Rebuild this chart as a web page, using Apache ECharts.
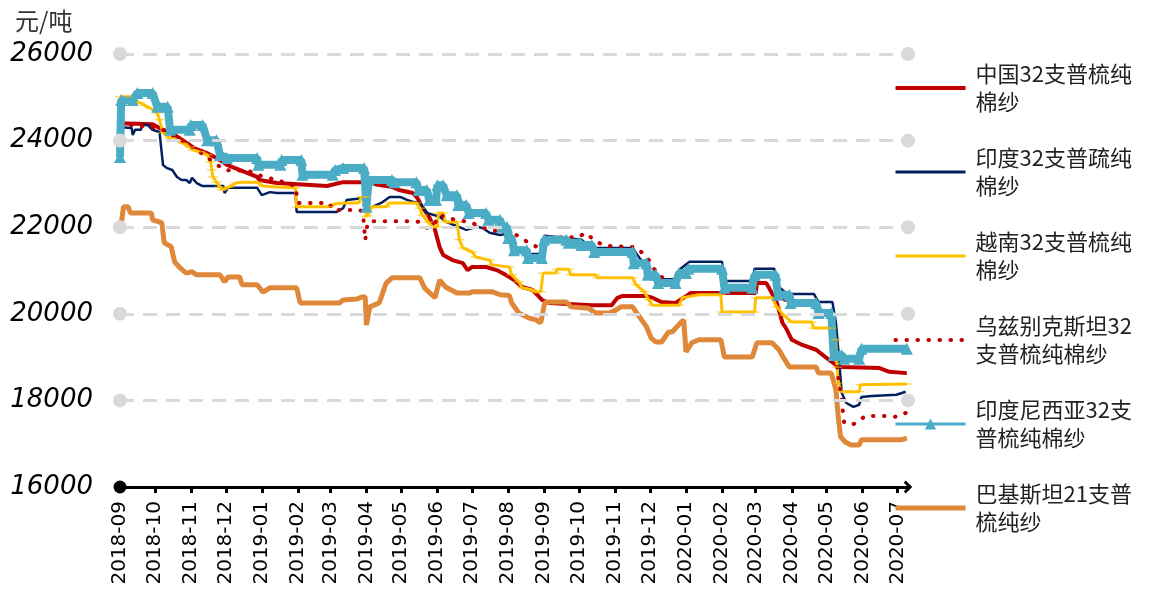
<!DOCTYPE html>
<html><head><meta charset="utf-8">
<script src="https://cdn.jsdelivr.net/npm/echarts@6/dist/echarts.min.js"></script>
<style>html,body{margin:0;padding:0;background:#fff}#c{width:1149px;height:594px}</style>
</head><body><div id="c"></div>
<script>
const seriesNames = ['中国32支普梳纯\n棉纱','印度32支普疏纯\n棉纱','越南32支普梳纯\n棉纱','乌兹别克斯坦32\n支普梳纯棉纱','印度尼西亚32支\n普梳纯棉纱','巴基斯坦21支普\n梳纯纱'];
const gridValues = [18000, 20000, 22000, 24000, 26000];
const yUnit = '元/吨';

const chinaData = [['2018-09-01',24400],['2018-09-29',24380],['2018-10-05',24290],['2018-10-18',24130],['2018-10-31',23900],['2018-11-03',23830],['2018-11-15',23710],['2018-11-23',23600],['2018-12-02',23440],['2018-12-28',23160],['2018-12-30',23090],['2019-01-14',23020],['2019-02-26',22950],['2019-03-12',23040],['2019-03-29',23040],['2019-04-23',22930],['2019-04-29',22860],['2019-05-11',22790],['2019-05-15',22670],['2019-05-19',22470],['2019-05-25',22240],['2019-05-30',21940],['2019-06-03',21540],['2019-06-06',21360],['2019-06-14',21240],['2019-06-23',21170],['2019-06-27',21010],['2019-07-01',21080],['2019-07-13',21080],['2019-07-22',21010],['2019-07-27',20940],['2019-08-02',20850],['2019-08-06',20780],['2019-08-13',20620],['2019-08-22',20550],['2019-08-26',20440],['2019-08-30',20320],['2019-09-05',20250],['2019-10-12',20200],['2019-10-29',20200],['2019-11-03',20370],['2019-11-07',20410],['2019-11-28',20410],['2019-12-03',20370],['2019-12-11',20270],['2019-12-23',20250],['2019-12-30',20370],['2020-01-05',20480],['2020-03-01',20480],['2020-03-02',20710],['2020-03-10',20710],['2020-03-12',20620],['2020-03-19',20270],['2020-03-24',19790],['2020-03-27',19670],['2020-04-01',19400],['2020-04-10',19280],['2020-04-22',19170],['2020-04-30',19000],['2020-05-09',18820],['2020-05-14',18770],['2020-06-15',18750],['2020-06-24',18660],['2020-07-09',18630]];

const indiaData = [['2018-09-01',23600],['2018-09-02',24310],['2018-09-11',24290],['2018-09-12',24130],['2018-09-14',24250],['2018-09-19',24250],['2018-09-20',24360],['2018-09-25',24360],['2018-09-29',24250],['2018-10-05',24200],['2018-10-08',23440],['2018-10-11',23370],['2018-10-16',23320],['2018-10-20',23160],['2018-10-24',23090],['2018-10-28',23090],['2018-10-31',23020],['2018-11-02',23140],['2018-11-06',23020],['2018-11-11',22950],['2018-11-29',22950],['2018-11-30',22790],['2018-12-03',22910],['2018-12-28',22910],['2019-01-01',22740],['2019-01-08',22810],['2019-01-14',22790],['2019-01-30',22790],['2019-01-31',22350],['2019-03-06',22350],['2019-03-12',22440],['2019-03-15',22630],['2019-03-28',22670],['2019-04-01',22560],['2019-04-04',22440],['2019-04-15',22580],['2019-04-21',22700],['2019-04-30',22700],['2019-05-06',22630],['2019-05-12',22580],['2019-05-17',22560],['2019-05-23',22330],['2019-06-03',22240],['2019-06-09',22120],['2019-06-26',21940],['2019-07-05',22010],['2019-07-10',21980],['2019-07-16',21870],['2019-07-25',21820],['2019-07-29',21840],['2019-08-04',21610],['2019-08-17',21380],['2019-08-30',21380],['2019-09-01',21800],['2019-09-20',21750],['2019-10-03',21710],['2019-10-12',21520],['2019-11-16',21520],['2019-11-22',21290],['2019-11-30',21010],['2019-12-06',20800],['2019-12-23',20800],['2019-12-26',21010],['2020-01-04',21200],['2020-02-01',21200],['2020-02-03',20760],['2020-02-27',20760],['2020-02-29',21040],['2020-03-17',21040],['2020-03-21',20620],['2020-03-28',20460],['2020-04-20',20460],['2020-04-24',20270],['2020-05-06',20270],['2020-05-09',19790],['2020-05-11',19170],['2020-05-14',18170],['2020-05-18',17940],['2020-05-24',17850],['2020-05-29',17900],['2020-05-31',18080],['2020-06-09',18100],['2020-06-30',18130],['2020-07-08',18200]];

const vietnamData = [['2018-09-01',25010],['2018-09-10',25010],['2018-09-18',24870],['2018-09-27',24750],['2018-10-03',24640],['2018-10-05',24480],['2018-10-08',24180],['2018-10-14',24060],['2018-10-20',24010],['2018-10-25',23940],['2018-10-31',23850],['2018-11-03',23780],['2018-11-09',23740],['2018-11-15',23670],['2018-11-18',23510],['2018-11-19',23320],['2018-11-20',23160],['2018-11-23',23040],['2018-11-26',22930],['2018-11-28',22860],['2018-12-04',22930],['2018-12-10',23020],['2018-12-15',23040],['2018-12-28',23040],['2019-01-02',22950],['2019-01-14',22930],['2019-01-30',22910],['2019-01-31',22470],['2019-02-28',22470],['2019-03-05',22540],['2019-03-14',22560],['2019-03-25',22560],['2019-03-28',22700],['2019-03-31',22700],['2019-04-01',22240],['2019-04-02',22280],['2019-04-06',22470],['2019-04-18',22470],['2019-04-21',22560],['2019-05-14',22560],['2019-05-17',22440],['2019-05-19',22280],['2019-05-24',22120],['2019-05-28',22010],['2019-06-01',22010],['2019-06-02',22330],['2019-06-06',22330],['2019-06-08',22120],['2019-06-18',22120],['2019-06-20',21710],['2019-06-23',21520],['2019-07-01',21430],['2019-07-04',21310],['2019-07-16',21240],['2019-07-18',21130],['2019-08-02',21080],['2019-08-04',20900],['2019-08-10',20740],['2019-08-13',20600],['2019-08-22',20550],['2019-08-24',20510],['2019-08-29',20510],['2019-08-31',20940],['2019-09-11',20940],['2019-09-12',21030],['2019-09-22',21030],['2019-09-24',20900],['2019-10-15',20900],['2019-10-17',20830],['2019-11-16',20830],['2019-11-19',20670],['2019-11-26',20510],['2019-11-30',20320],['2019-12-03',20200],['2019-12-26',20200],['2019-12-29',20370],['2020-01-12',20440],['2020-01-31',20440],['2020-02-01',20040],['2020-02-29',20040],['2020-03-01',20370],['2020-03-15',20370],['2020-03-19',20160],['2020-03-25',19970],['2020-04-01',19810],['2020-04-18',19810],['2020-04-20',19670],['2020-05-05',19670],['2020-05-09',19400],['2020-05-10',18770],['2020-05-11',18400],['2020-05-14',18200],['2020-05-29',18200],['2020-05-30',18360],['2020-07-09',18380]];

const uzbekData = [['2018-09-01',24380],['2018-10-05',24290],['2018-10-31',23900],['2018-11-30',23320],['2018-12-21',23300],['2018-12-28',23210],['2019-01-14',23090],['2019-01-30',22950],['2019-02-01',22560],['2019-02-28',22560],['2019-03-03',22400],['2019-03-26',22400],['2019-03-29',22350],['2019-03-31',21700],['2019-04-02',22100],['2019-04-05',22140],['2019-05-11',22140],['2019-05-17',22120],['2019-05-23',21980],['2019-05-30',22100],['2019-06-03',22280],['2019-06-09',22240],['2019-06-16',22170],['2019-06-29',22120],['2019-07-11',21980],['2019-07-25',21890],['2019-08-08',21820],['2019-08-13',21730],['2019-08-19',21640],['2019-08-26',21540],['2019-08-30',21540],['2019-09-01',21770],['2019-10-01',21770],['2019-10-06',21870],['2019-10-11',21770],['2019-10-16',21660],['2019-10-24',21570],['2019-11-19',21540],['2019-11-29',21290],['2019-12-03',21080],['2019-12-11',20850],['2019-12-23',20710],['2020-01-01',21010],['2020-02-01',21010],['2020-02-03',20600],['2020-02-27',20600],['2020-02-29',20900],['2020-03-18',20900],['2020-03-20',20440],['2020-03-30',20250],['2020-04-22',20250],['2020-04-24',20020],['2020-05-05',20020],['2020-05-11',18540],['2020-05-14',18010],['2020-05-15',17730],['2020-05-16',17500],['2020-05-22',17430],['2020-05-28',17500],['2020-06-03',17640],['2020-06-24',17640],['2020-06-30',17620],['2020-07-08',17710]];

const indonesiaData = [['2018-09-01',23620],['2018-09-02',24940],['2018-09-12',24940],['2018-09-16',25100],['2018-09-29',25100],['2018-10-03',24780],['2018-10-12',24780],['2018-10-14',24250],['2018-10-31',24250],['2018-11-01',24360],['2018-11-11',24360],['2018-11-15',24010],['2018-11-23',24010],['2018-11-26',23670],['2018-12-02',23600],['2018-12-28',23600],['2018-12-29',23440],['2019-01-17',23440],['2019-01-18',23550],['2019-02-04',23550],['2019-02-05',23210],['2019-03-03',23210],['2019-03-05',23320],['2019-03-12',23370],['2019-03-30',23370],['2019-04-01',22470],['2019-04-03',23090],['2019-04-23',23090],['2019-04-25',23040],['2019-05-14',23040],['2019-05-16',22860],['2019-05-23',22860],['2019-05-25',22630],['2019-05-31',22630],['2019-06-01',22970],['2019-06-06',22970],['2019-06-09',22740],['2019-06-18',22740],['2019-06-19',22510],['2019-06-26',22510],['2019-06-28',22330],['2019-07-13',22330],['2019-07-15',22170],['2019-07-25',22170],['2019-07-27',22010],['2019-07-31',22010],['2019-08-01',21750],['2019-08-04',21750],['2019-08-06',21470],['2019-08-17',21470],['2019-08-18',21290],['2019-08-30',21290],['2019-09-01',21710],['2019-09-20',21710],['2019-09-22',21640],['2019-10-01',21640],['2019-10-03',21590],['2019-10-12',21590],['2019-10-14',21430],['2019-11-16',21430],['2019-11-17',21170],['2019-11-28',21170],['2019-11-29',20900],['2019-12-06',20900],['2019-12-08',20710],['2019-12-23',20710],['2019-12-26',20940],['2020-01-01',20940],['2020-01-03',21040],['2020-02-01',21040],['2020-02-03',20600],['2020-02-27',20600],['2020-02-29',20900],['2020-03-18',20900],['2020-03-20',20440],['2020-03-30',20440],['2020-03-31',20250],['2020-04-22',20250],['2020-04-24',20020],['2020-05-05',20020],['2020-05-07',19050],['2020-05-14',19050],['2020-05-16',18960],['2020-05-29',18960],['2020-05-31',19190],['2020-07-09',19190]];

const pakistanData = [['2018-09-01',21870],['2018-09-04',22470],['2018-09-08',22470],['2018-09-10',22330],['2018-09-28',22330],['2018-09-29',22170],['2018-10-05',22120],['2018-10-07',22100],['2018-10-09',21640],['2018-10-15',21550],['2018-10-18',21200],['2018-10-22',21080],['2018-10-28',20940],['2018-11-02',20970],['2018-11-06',20900],['2018-11-26',20900],['2018-11-30',20740],['2018-12-03',20850],['2018-12-13',20850],['2018-12-15',20670],['2018-12-28',20670],['2019-01-02',20500],['2019-01-08',20600],['2019-01-31',20600],['2019-02-03',20250],['2019-03-09',20250],['2019-03-12',20320],['2019-03-24',20340],['2019-03-28',20390],['2019-03-31',20390],['2019-04-01',19740],['2019-04-04',20160],['2019-04-12',20250],['2019-04-18',20710],['2019-04-23',20830],['2019-05-17',20830],['2019-05-21',20600],['2019-05-30',20370],['2019-06-03',20780],['2019-06-08',20620],['2019-06-18',20480],['2019-06-29',20480],['2019-07-01',20510],['2019-07-18',20510],['2019-07-25',20440],['2019-08-02',20420],['2019-08-04',20250],['2019-08-10',20020],['2019-08-19',19900],['2019-08-25',19860],['2019-08-29',19790],['2019-09-01',20200],['2019-09-02',20270],['2019-09-20',20270],['2019-09-24',20160],['2019-10-09',20130],['2019-10-15',20020],['2019-10-27',20020],['2019-11-02',20090],['2019-11-06',20160],['2019-11-16',20160],['2019-11-22',19930],['2019-11-28',19700],['2019-12-02',19440],['2019-12-06',19350],['2019-12-11',19350],['2019-12-17',19580],['2019-12-20',19580],['2019-12-28',19810],['2019-12-30',19860],['2020-01-01',19120],['2020-01-06',19330],['2020-01-12',19400],['2020-01-31',19400],['2020-02-03',19000],['2020-02-27',19000],['2020-03-02',19330],['2020-03-15',19330],['2020-03-21',19170],['2020-03-25',18980],['2020-03-30',18770],['2020-04-22',18770],['2020-04-24',18630],['2020-05-05',18630],['2020-05-09',18240],['2020-05-11',17620],['2020-05-13',17160],['2020-05-17',17040],['2020-05-22',16970],['2020-05-29',16970],['2020-05-31',17090],['2020-07-04',17090],['2020-07-09',17130]];

const chart = echarts.init(document.getElementById('c'), null, {renderer: 'canvas'});
const pad2 = n => String(n).padStart(2, '0');
const arrowPath = 'path://M0,10 L10,0 L20,10 L16.5,13 L10,6.5 L3.5,13 Z';
const barSymbol = 'path://M0,0 L12,0 L12,3.5 L0,3.5 Z';
const hidden = {opacity: 0};

chart.setOption({
  animation: false,
  backgroundColor: '#fff',
  title: {text: yUnit, left: 10, top: 4, textStyle: {fontFamily: 'Noto Sans CJK SC', fontSize: 24, fontWeight: 'normal', color: '#333'}},
  grid: {left: 120, right: 241, top: 54, bottom: 107, containLabel: false},
  legend: {
    orient: 'vertical', left: 893, top: 46, padding: 0, itemGap: 0,
    itemWidth: 70, itemHeight: 14,
    textStyle: {fontFamily: 'Noto Sans CJK SC', fontSize: 22, color: '#222', lineHeight: 28, padding: [28, 0, 0, 5]},
    data: [
      {name: seriesNames[0], lineStyle: {width: 4}, itemStyle: hidden},
      {name: seriesNames[1], lineStyle: {width: 3}, itemStyle: hidden},
      {name: seriesNames[2], lineStyle: {width: 3}, itemStyle: hidden},
      {name: seriesNames[3], lineStyle: {width: 4}, itemStyle: hidden},
      {name: seriesNames[4], lineStyle: {width: 3}},
      {name: seriesNames[5], lineStyle: {width: 5}, itemStyle: hidden}
    ]
  },
  xAxis: {
    type: 'time', min: '2018-09-01', max: '2020-07-10',
    minInterval: 28 * 86400000, maxInterval: 31 * 86400000,
    axisLine: {show: true, lineStyle: {color: '#000', width: 3}, symbol: ['circle', arrowPath], symbolSize: [13, 13], symbolOffset: [0, 0]},
    axisTick: {show: true, length: 6, lineStyle: {color: '#000', width: 3}},
    axisLabel: {
      rotate: 90, margin: 14, color: '#000', fontFamily: 'DejaVu Sans', fontSize: 20,
      formatter: v => { const d = new Date(v); return d.getFullYear() + '-' + pad2(d.getMonth() + 1); }
    },
    splitLine: {show: false}
  },
  yAxis: {
    type: 'value', min: 16000, max: 26000, interval: 2000,
    axisLine: {show: false}, axisTick: {show: false}, splitLine: {show: false},
    axisLabel: {color: '#000', fontFamily: 'DejaVu Sans', fontStyle: 'italic', fontSize: 26, margin: 27, formatter: v => String(v)}
  },
  series: [
    {
      name: 'grid', type: 'line', data: [], silent: true, z: 1,
      markLine: {
        silent: true, animation: false, symbol: ['circle', 'circle'], symbolSize: 14,
        label: {show: false},
        lineStyle: {color: '#d9d9d9', width: 3, type: [14, 9]},
        emphasis: {disabled: true},
        data: gridValues.map(v => ({yAxis: v}))
      }
    },
    {name: seriesNames[0], type: 'line', data: chinaData, symbol: 'none', color: '#C00000', lineStyle: {width: 4, color: '#C00000'}, z: 2},
    {name: seriesNames[1], type: 'line', data: indiaData, symbol: 'none', color: '#002060', lineStyle: {width: 2.5, color: '#002060'}, z: 2},
    {name: seriesNames[2], type: 'line', data: vietnamData, symbol: barSymbol, symbolSize: [10, 3], symbolKeepAspect: true, showSymbol: true, showAllSymbol: true, color: '#FFC000', itemStyle: {color: '#FFC000'}, lineStyle: {width: 3, color: '#FFC000'}, z: 2},
    {name: seriesNames[3], type: 'line', data: uzbekData, symbol: 'none', color: '#C00000', lineStyle: {width: 4, color: '#C00000', type: [0.5, 10.5], cap: 'round'}, z: 2},
    {name: seriesNames[4], type: 'line', data: indonesiaData, symbol: 'triangle', symbolSize: 12, showSymbol: true, showAllSymbol: true, color: '#4BACC6', itemStyle: {color: '#4BACC6'}, lineStyle: {width: 8, color: '#4BACC6'}, z: 2},
    {name: seriesNames[5], type: 'line', data: pakistanData, symbol: 'none', color: '#E0883A', lineStyle: {width: 5, color: '#E0883A'}, z: 2}
  ]
});
</script>
</body></html>
